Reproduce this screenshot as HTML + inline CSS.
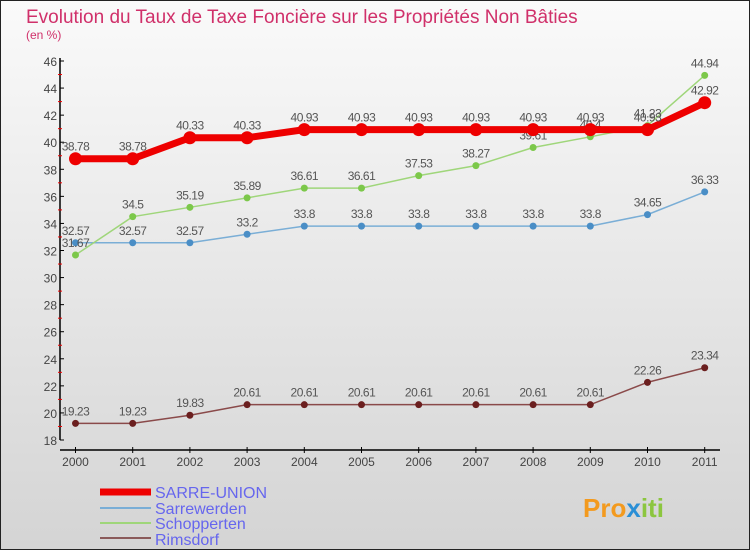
<!DOCTYPE html>
<html><head><meta charset="utf-8"><style>
body{margin:0;width:750px;height:550px;overflow:hidden;font-family:"Liberation Sans",sans-serif}
</style></head><body>
<svg width="750" height="550" xmlns="http://www.w3.org/2000/svg">
<defs><linearGradient id="bg" x1="0" y1="0" x2="0" y2="1"><stop offset="0" stop-color="#fafafa"/><stop offset="1" stop-color="#d4d4d4"/></linearGradient></defs>
<rect x="0.5" y="0.5" width="749" height="549" fill="url(#bg)" stroke="#222"/>
<text x="26" y="23" font-size="19" font-weight="normal" fill="#d0306a">Evolution du Taux de Taxe Foncière sur les Propriétés Non Bâties</text>
<text x="26" y="39" font-size="12" fill="#d0306a">(en %)</text>
<g id="axes"></g><g id="series"></g>
<g>
<line x1="100" y1="492" x2="151" y2="492" stroke="#e00" stroke-width="7"/>
<text x="155" y="498" font-size="16" fill="#6666ee">SARRE-UNION</text>
<line x1="100" y1="508" x2="151" y2="508" stroke="#7aaed6" stroke-width="2"/>
<text x="155" y="514" font-size="16" fill="#6666ee">Sarrewerden</text>
<line x1="100" y1="523" x2="151" y2="523" stroke="#9fd67a" stroke-width="2"/>
<text x="155" y="529" font-size="16" fill="#6666ee">Schopperten</text>
<line x1="100" y1="538" x2="151" y2="538" stroke="#8a5a5a" stroke-width="2"/>
<text x="155" y="545" font-size="16" fill="#6666ee">Rimsdorf</text>
</g>
<text x="583" y="517" font-size="26" font-weight="bold" fill="#f39a1e">Pro<tspan fill="#2a8fd6">x</tspan><tspan fill="#8cc63f">iti</tspan></text>
</svg>
<script>
const years=[2000,2001,2002,2003,2004,2005,2006,2007,2008,2009,2010,2011];
const yTicks=[18,20,22,24,26,28,30,32,34,36,38,40,42,44,46];
const sarreUnion=[38.78,38.78,40.33,40.33,40.93,40.93,40.93,40.93,40.93,40.93,40.93,42.92];
const sarrewerden=[32.57,32.57,32.57,33.2,33.8,33.8,33.8,33.8,33.8,33.8,34.65,36.33];
const schopperten=[31.67,34.5,35.19,35.89,36.61,36.61,37.53,38.27,39.61,40.4,41.23,44.94];
const rimsdorf=[19.23,19.23,19.83,20.61,20.61,20.61,20.61,20.61,20.61,20.61,22.26,23.34];
const NS="http://www.w3.org/2000/svg";
const xS=i=>75.5+i*57.2;
const yS=v=>440-(v-18)*(379/28);
function mk(t,a,p){const e=document.createElementNS(NS,t);for(const k in a)e.setAttribute(k,a[k]);p.appendChild(e);return e;}
const ax=document.getElementById('axes');
let l=mk('line',{x1:60,y1:58,x2:60,y2:440,stroke:'#000','stroke-width':1.5},ax);


l=mk('line',{x1:60,y1:450,x2:720,y2:450,stroke:'#000','stroke-width':1.5},ax);


yTicks.forEach((v,i)=>{
 mk('line',{x1:60,y1:yS(v),x2:64,y2:yS(v),stroke:'#000'},ax);
 if(i<yTicks.length-1) mk('line',{x1:58,y1:yS(v+1),x2:62,y2:yS(v+1),stroke:'#e00'},ax);
 const t=mk('text',{x:57,y:yS(v)+5,'font-size':12,fill:'#444','text-anchor':'end'},ax);
 t.textContent=v;
 
 
});
years.forEach((y,i)=>{
 mk('line',{x1:xS(i),y1:447,x2:xS(i),y2:453,stroke:'#000'},ax);
 const t=mk('text',{x:xS(i),y:466,'font-size':12,fill:'#444','text-anchor':'middle'},ax);
 t.textContent=y;
 
 
});
const sg=document.getElementById('series');
function draw(vals,color,w,r,name,ptColor){
 const g=mk('g',{},sg);
 
 
 const p=mk('polyline',{points:vals.map((v,i)=>xS(i)+','+yS(v)).join(' '),fill:'none',stroke:color,'stroke-width':w},g);
 
 
 vals.forEach((v,i)=>{
  const c=mk('circle',{cx:xS(i),cy:yS(v),r:r,fill:ptColor},g);
  
  
  const t=mk('text',{x:xS(i),y:yS(v)-8,'font-size':12,fill:'#555','text-anchor':'middle','letter-spacing':'-0.5'},g);
  t.textContent=String(v);
  
  
 });
}
draw(rimsdorf,'#8a4a4a',1.5,3.5,'rimsdorf','#6b1f1f');
draw(sarrewerden,'#7aaed6',1.5,3.5,'sarrewerden','#4a8ec6');
draw(schopperten,'#9fd67a',1.5,3.5,'schopperten','#7cc84a');
draw(sarreUnion,'#e00',7,6.5,'sarre-union','#e00');
</script>
</body></html>
